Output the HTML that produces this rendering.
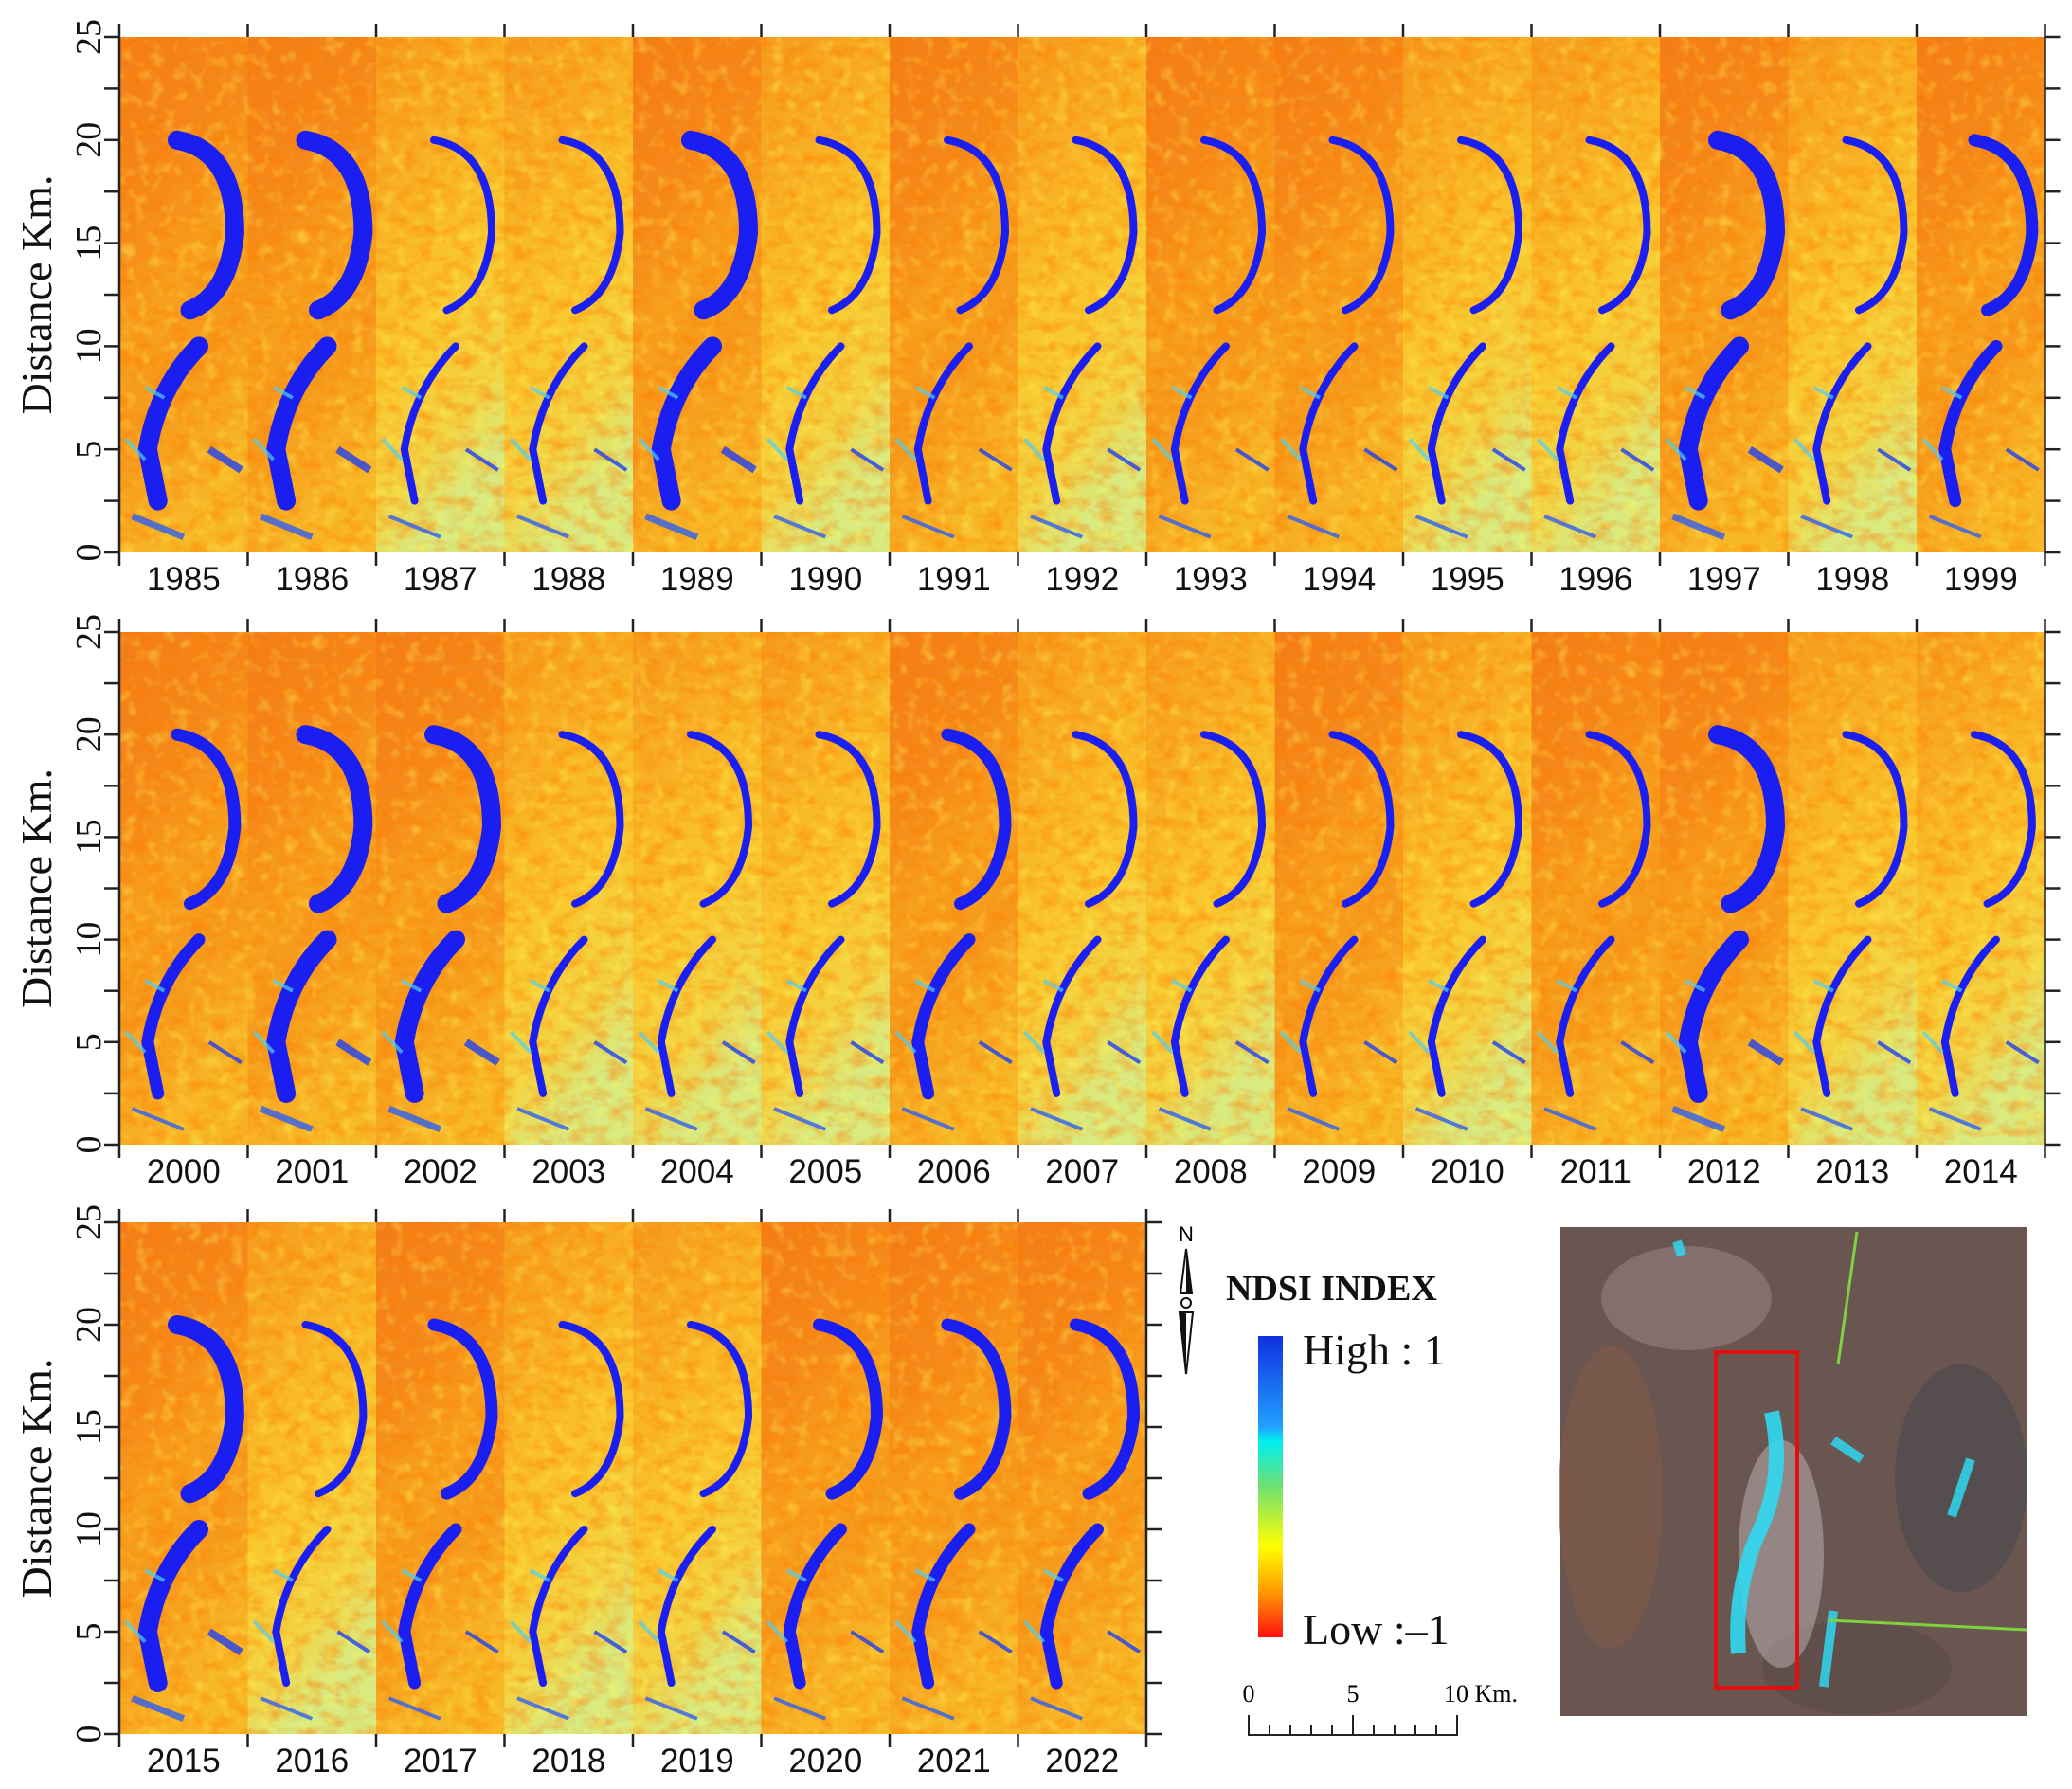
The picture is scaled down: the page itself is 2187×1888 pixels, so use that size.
<!DOCTYPE html>
<html><head><meta charset="utf-8">
<style>
html,body{margin:0;padding:0;background:#fff;}
svg{display:block;}
</style></head>
<body>
<svg id="s" width="2187" height="1888" viewBox="0 0 2187 1888" xmlns="http://www.w3.org/2000/svg">
<defs>
<linearGradient id="bgA" x1="0" y1="0" x2="0.3" y2="1">
<stop offset="0" stop-color="#f37c18"/><stop offset="0.35" stop-color="#f58a1a"/>
<stop offset="0.55" stop-color="#f7a01e"/><stop offset="0.75" stop-color="#f69a1c"/>
<stop offset="1" stop-color="#f7b828"/></linearGradient>
<linearGradient id="bgB" x1="0" y1="0" x2="0.3" y2="1">
<stop offset="0" stop-color="#f59a1e"/><stop offset="0.35" stop-color="#f8b426"/>
<stop offset="0.6" stop-color="#f9c82e"/><stop offset="0.85" stop-color="#f2d444"/>
<stop offset="1" stop-color="#d8ea80"/></linearGradient>
<linearGradient id="cb" x1="0" y1="0" x2="0" y2="1">
<stop offset="0" stop-color="#1030e0"/><stop offset="0.3" stop-color="#20a0ff"/>
<stop offset="0.35" stop-color="#00f0f0"/><stop offset="0.5" stop-color="#70e070"/>
<stop offset="0.7" stop-color="#ffff00"/><stop offset="0.85" stop-color="#ff9900"/>
<stop offset="1" stop-color="#ff1010"/></linearGradient>
<filter id="nz" x="0" y="0" width="1" height="1">
<feTurbulence type="fractalNoise" baseFrequency="0.05 0.08" numOctaves="3" seed="3"/>
<feColorMatrix values="0 0 0 0 1  0 0 0 0 0.2  0 0 0 0 0  0 0 0 -2.2 1.3"/>
<feComposite in2="SourceGraphic" operator="in"/>
</filter>
<filter id="nz2" x="0" y="0" width="1" height="1">
<feTurbulence type="fractalNoise" baseFrequency="0.07" numOctaves="2" seed="9"/>
<feColorMatrix values="0 0 0 0 1  0 0 0 0 0.95  0 0 0 0 0.1  0 0 0 -2.5 1.2"/>
<feComposite in2="SourceGraphic" operator="in"/>
</filter>
</defs>
<g id="g"></g>
</svg>
<script>
const g=document.getElementById('g');
let h='';
const W=135.5, L=126;
const rows=[{t:39,b:583,y0:1985,n:15},{t:667,b:1208,y0:2000,n:15},{t:1290,b:1830,y0:2015,n:8}];
const heavy=[1985,1986,1989,1997,2001,2002,2012,2015];
const med=[1999,2000,2006,2020,2021,2022,2017];
const yellow=[1987,1988,1990,1992,1995,1996,1998,2003,2004,2005,2007,2008,2010,2013,2014,2016,2018,2019];
rows.forEach((r,ri)=>{
  const H=r.b-r.t;
  for(let i=0;i<r.n;i++){
    const yr=r.y0+i, x=L+i*W;
    const bg=yellow.includes(yr)?'url(#bgB)':'url(#bgA)';
    h+=`<rect x="${x}" y="${r.t}" width="${W+0.5}" height="${H}" fill="${bg}"/>`;
    h+=`<rect x="${x}" y="${r.t}" width="${W+0.5}" height="${H}" fill="#f06010" opacity="0.5" filter="url(#nz)"/>`;
    h+=`<rect x="${x}" y="${r.t}" width="${W+0.5}" height="${H}" fill="#ff0" opacity="0.45" filter="url(#nz2)"/>`;
    const hv=heavy.includes(yr), md=med.includes(yr), sw=hv?20:(md?13:8);
    const P=(a,b)=>`${(x+a*W).toFixed(1)},${(r.t+b*H).toFixed(1)}`;
    h+=`<path d="M${P(0.45,0.2)} Q${P(0.9,0.22)} ${P(0.9,0.38)} Q${P(0.85,0.5)} ${P(0.55,0.53)}" fill="none" stroke="#1a1ef0" stroke-width="${sw}" stroke-linecap="round"/>`;
    h+=`<path d="M${P(0.62,0.6)} Q${P(0.3,0.68)} ${P(0.22,0.8)} L${P(0.3,0.9)}" fill="none" stroke="#1a1ef0" stroke-width="${sw}" stroke-linecap="round"/>`;
    h+=`<path d="M${P(0.1,0.93)} L${P(0.5,0.97)}" stroke="#3060f0" stroke-width="${hv?7:4}" opacity="0.8"/>`;
    h+=`<path d="M${P(0.7,0.8)} L${P(0.95,0.84)}" stroke="#2040f0" stroke-width="${hv?8:4}" opacity="0.8"/>`;
    h+=`<path d="M${P(0.05,0.78)} L${P(0.2,0.82)} M${P(0.2,0.68)} L${P(0.35,0.7)}" stroke="#50d0f0" stroke-width="4" opacity="0.7"/>`;
    h+=`<text x="${x+W/2}" y="${r.b+40}" font-family="Liberation Sans,sans-serif" font-size="35" text-anchor="middle" fill="#111">${yr}</text>`;
  }
  const R=L+r.n*W;
  h+=`<line x1="${L}" y1="${r.t-14}" x2="${L}" y2="${r.b+14}" stroke="#222" stroke-width="2.5"/>`;
  h+=`<line x1="${R}" y1="${r.t-14}" x2="${R}" y2="${r.b+14}" stroke="#222" stroke-width="2.5"/>`;
  for(let i=1;i<r.n;i++){const x=L+i*W;
    h+=`<line x1="${x}" y1="${r.t-14}" x2="${x}" y2="${r.t}" stroke="#222" stroke-width="2.5"/>`;
    h+=`<line x1="${x}" y1="${r.b}" x2="${x}" y2="${r.b+14}" stroke="#222" stroke-width="2.5"/>`;}
  for(let k=0;k<=10;k++){const y=r.b-k*H/10;
    h+=`<line x1="${L-16}" y1="${y}" x2="${L}" y2="${y}" stroke="#222" stroke-width="2.5"/>`;
    h+=`<line x1="${R}" y1="${y}" x2="${R+16}" y2="${y}" stroke="#222" stroke-width="2.5"/>`;
    if(k%2==0) h+=`<text transform="translate(106 ${y}) rotate(-90)" font-family="Liberation Serif,serif" font-size="38" text-anchor="middle" fill="#111">${k*2.5}</text>`;}
  h+=`<text transform="translate(54 ${(r.t+r.b)/2}) rotate(-90)" font-family="Liberation Serif,serif" font-size="46" text-anchor="middle" fill="#111">Distance Km.</text>`;
});
// legend
h+=`<text x="1252" y="1310" font-family="Liberation Sans,sans-serif" font-size="22" text-anchor="middle">N</text>`;
h+=`<path d="M1252 1318 L1246 1365 L1258 1365 Z M1252 1450 L1245 1385 L1259 1385 Z" fill="#fff" stroke="#111" stroke-width="2"/><path d="M1252 1318 L1252 1365 L1258 1365 Z M1252 1450 L1252 1385 L1245 1385 Z" fill="#111"/><circle cx="1252" cy="1375" r="5" fill="none" stroke="#111" stroke-width="2"/>`;
h+=`<text x="1294" y="1372" font-family="Liberation Serif,serif" font-size="38" font-weight="bold" fill="#111">NDSI INDEX</text>`;
h+=`<rect x="1328" y="1410" width="26" height="318" fill="url(#cb)"/>`;
h+=`<text x="1375" y="1440" font-family="Liberation Serif,serif" font-size="46" fill="#111">High : 1</text>`;
h+=`<text x="1375" y="1735" font-family="Liberation Serif,serif" font-size="46" fill="#111">Low :–1</text>`;
h+=`<text x="1318" y="1796" font-family="Liberation Serif,serif" font-size="26" text-anchor="middle">0</text>`;
h+=`<text x="1428" y="1796" font-family="Liberation Serif,serif" font-size="26" text-anchor="middle">5</text>`;
h+=`<text x="1524" y="1796" font-family="Liberation Serif,serif" font-size="26">10 Km.</text>`;
h+=`<path d="M1318 1810 L1318 1831 L1538 1831 L1538 1810" fill="none" stroke="#222" stroke-width="2"/>`;
for(let k=1;k<10;k++){const x=1318+k*22;h+=`<line x1="${x}" y1="${k==5?1810:1820}" x2="${x}" y2="1831" stroke="#222" stroke-width="2"/>`;}
// satellite image
h+=`<rect x="1647" y="1295" width="492" height="516" fill="#6a5650"/>`;
h+=`<ellipse cx="1780" cy="1370" rx="90" ry="55" fill="#8e7c7a" opacity="0.7"/>`;
h+=`<ellipse cx="1700" cy="1580" rx="55" ry="160" fill="#7e5a48" opacity="0.7"/>`;
h+=`<ellipse cx="2070" cy="1560" rx="70" ry="120" fill="#4e4a4e" opacity="0.7"/>`;
h+=`<ellipse cx="1960" cy="1760" rx="100" ry="50" fill="#5a4a46" opacity="0.6"/>`;
h+=`<ellipse cx="1880" cy="1640" rx="45" ry="120" fill="#c8c0c4" opacity="0.45"/>`;
h+=`<path d="M1870 1490 Q1885 1560 1855 1620 Q1830 1680 1835 1745" fill="none" stroke="#30d8f0" stroke-width="16" opacity="0.9"/>`;
h+=`<path d="M1935 1520 L1965 1540 M1935 1700 L1925 1780 M2080 1540 L2060 1600 M1770 1310 L1775 1325" stroke="#30d8f0" stroke-width="10" opacity="0.85"/>`;
h+=`<path d="M1960 1300 L1940 1440 M1930 1710 L2139 1720" stroke="#80d040" stroke-width="3"/>`;
h+=`<rect x="1811" y="1427" width="86" height="354" fill="none" stroke="#e01010" stroke-width="4"/>`;
g.innerHTML=h;
</script>
</body></html>
